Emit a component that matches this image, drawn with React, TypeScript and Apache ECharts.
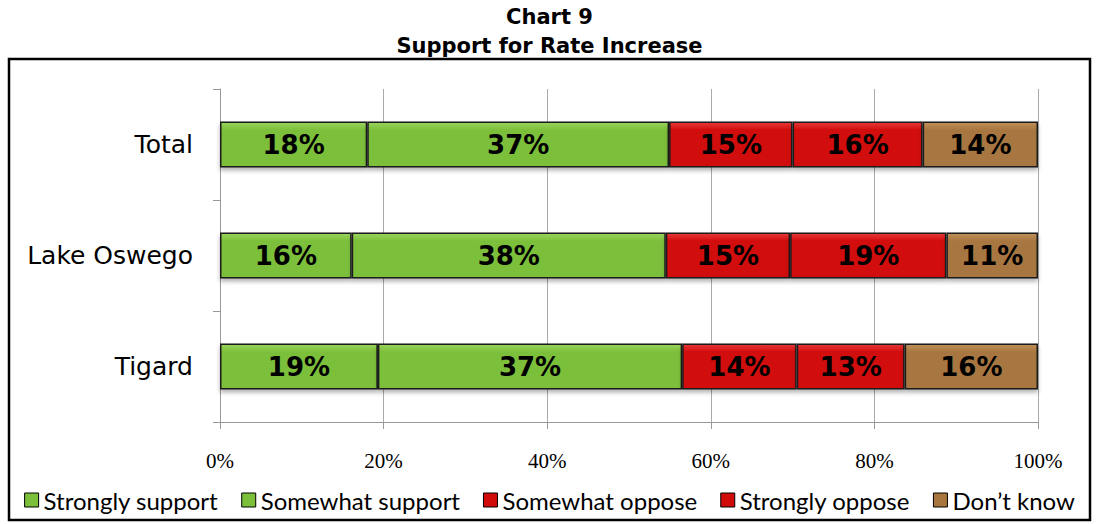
import React, { useEffect, useRef } from "react";
import * as echarts from "echarts";

const categories = ["Total", "Lake Oswego", "Tigard"];
const seriesNames = ["Strongly support", "Somewhat support", "Somewhat oppose", "Strongly oppose", "Don\u2019t know"];
const stronglySupport = [18.0, 16.1, 19.3];
const somewhatSupport = [36.9, 38.4, 37.2];
const somewhatOppose = [15.1, 15.2, 14.0];
const stronglyOppose = [15.9, 19.1, 13.2];
const dontKnow = [14.1, 11.2, 16.3];
const xTicks = [0, 20, 40, 60, 80, 100];

const colors = ["#7cbf3a", "#7cbf3a", "#d10a0a", "#d10a0a", "#a8763f"];
const lightColors = ["#9ad45e", "#9ad45e", "#e83a3a", "#e83a3a", "#c0915a"];

export default function App() {
  const ref = useRef<HTMLDivElement>(null);
  useEffect(() => {
    if (!ref.current) return;
    const chart = echarts.init(ref.current, null, { renderer: "svg" });
    const values = [stronglySupport, somewhatSupport, somewhatOppose, stronglyOppose, dontKnow];
    const series = values.map((arr, i) => ({
      name: seriesNames[i],
      type: "bar",
      stack: "total",
      barWidth: 46,
      data: arr,
      itemStyle: {
        color: new echarts.graphic.LinearGradient(0, 0, 0, 1, [
          { offset: 0, color: lightColors[i] },
          { offset: 0.18, color: colors[i] },
          { offset: 0.85, color: colors[i] },
          { offset: 1, color: colors[i] },
        ]),
        borderColor: "#1a1a1a",
        borderWidth: 1.5,
        shadowColor: "rgba(0,0,0,0.3)",
        shadowBlur: 4,
        shadowOffsetY: 3,
      },
      label: {
        show: true,
        position: "inside",
        formatter: (p: any) => Math.round(p.value) + "%",
        fontFamily: "DejaVu Sans",
        fontWeight: "bold",
        fontSize: 26,
        color: "#000",
      },
    }));
    chart.setOption({
      animation: false,
      backgroundColor: "#fff",
      title: {
        text: "Chart 9\nSupport for Rate Increase",
        left: "center",
        top: 2,
        padding: 0,
        textStyle: {
          fontFamily: "DejaVu Sans",
          fontWeight: "bold",
          fontSize: 21,
          lineHeight: 29,
          color: "#000",
        },
      },
      graphic: [
        {
          type: "rect",
          shape: { x: 9, y: 59, width: 1081, height: 461 },
          style: { fill: "none", stroke: "#000", lineWidth: 2.5 },
          z: 100,
        },
      ],
      legend: {
        bottom: 7,
        left: "center",
        itemWidth: 14,
        itemHeight: 14,
        itemGap: 23,
        icon: "rect",
        itemStyle: { borderColor: "#000", borderWidth: 1 },
        textStyle: { fontFamily: "Lato", fontSize: 24, color: "#000" },
        data: seriesNames.map((n, i) => ({ name: n, itemStyle: { color: colors[i], borderColor: "#000", borderWidth: 1 } })),
      },
      grid: { left: 220, right: 61, top: 89, bottom: 102, containLabel: false },
      xAxis: {
        type: "value",
        min: 0,
        max: 100,
        interval: 20,
        axisLine: { show: true, lineStyle: { color: "#999", width: 1 } },
        axisTick: { show: true, length: 7, lineStyle: { color: "#999" } },
        splitLine: { show: true, lineStyle: { color: "#aaa", width: 1 } },
        axisLabel: {
          margin: 28,
          fontFamily: "Liberation Serif",
          fontSize: 21,
          color: "#000",
          formatter: (v: number) => (xTicks.includes(v) ? v + "%" : ""),
        },
      },
      yAxis: {
        type: "category",
        inverse: true,
        data: categories,
        axisLine: { show: true, lineStyle: { color: "#999", width: 1 } },
        axisTick: { show: true, length: 7, lineStyle: { color: "#999" } },
        axisLabel: {
          margin: 27,
          fontFamily: "DejaVu Sans",
          fontSize: 25,
          color: "#000",
        },
      },
      series,
    });
    return () => chart.dispose();
  }, []);
  return (
    <div
      ref={ref}
      style={{ position: "absolute", left: 0, top: 0, width: 1099, height: 524 }}
    />
  );
}
